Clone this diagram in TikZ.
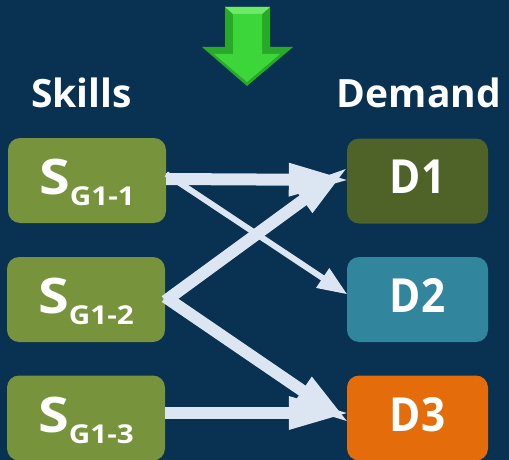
\documentclass[tikz,border=0pt]{standalone}
\usepackage{fontspec}
\setmainfont{Open Sans}
\usetikzlibrary{calc}
\definecolor{bg}{RGB}{8,49,82}
\definecolor{sgreen}{RGB}{119,147,60}
\definecolor{done}{RGB}{79,98,40}
\definecolor{dtwo}{RGB}{49,133,156}
\definecolor{dthree}{RGB}{228,108,10}
\definecolor{arr}{RGB}{220,230,242}
\definecolor{garrow}{RGB}{60,214,58}
\definecolor{garrowdark}{RGB}{40,170,40}
\definecolor{garrowlight}{RGB}{110,235,100}
\tikzset{
  box/.style={fill=#1, rounded corners=12pt, minimum width=158pt, minimum height=85pt, inner sep=0pt},
  lbl/.style={text=white, font=\fontsize{39}{39}\selectfont\bfseries, anchor=base, inner sep=0pt},
  dtext/.style={text=white, font=\fontsize{47}{47}\selectfont\bfseries, anchor=base, inner sep=0pt},
  stext/.style={text=white, anchor=base, inner sep=0pt},
}
\newcommand{\sglabel}[1]{\scalebox{1.14}[1]{{\fontsize{49}{49}\selectfont\bfseries S}{\fontsize{26}{26}\selectfont\bfseries\raisebox{-11pt}{G1-#1}}}}
\newcommand{\dlabel}[1]{\scalebox{0.9}[1]{#1}}
% \fatarrow{start}{end}{shaft width}{head length}{head half width}{colour}
\newcommand{\fatarrow}[6]{%
  \coordinate (fa-b) at ($(#2)!#4!(#1)$);
  \coordinate (fa-c) at ($(#2)!#4-2pt!(#1)$);
  \draw[#6, line width=#3] (#1) -- (fa-c);
  \fill[#6] (#2) -- ($(fa-b)!#5!90:(#2)$) -- ($(fa-b)!#5!-90:(#2)$) -- cycle;
}
\begin{document}
\begin{tikzpicture}[x=1pt,y=-1pt]
\fill[bg] (0,0) rectangle (509,460);
\useasboundingbox (0,0) rectangle (509,460);
% green arrow
\fill[garrowdark] (225,7) -- (270,7) -- (270,47) -- (293,47) -- (247,86) -- (202,47) -- (225,47) -- cycle;
\fill[garrowlight] (225,7) -- (270,7) -- (262,14) -- (233,14) -- cycle;
\fill[garrow] (233,14) -- (262,14) -- (262,54) -- (280,54) -- (247,82) -- (214,54) -- (233,54) -- cycle;
% labels
\node[lbl] (skills) at (81.5,107) {Skills};
\node[lbl] (demand) at (419,107) {Demand};
% boxes
\node[box=sgreen] (s1) at (87,180.5) {};
\node[box=sgreen] (s2) at (86,299.5) {};
\node[box=sgreen] (s3) at (86,418) {};
\node[box=done, minimum width=141pt] (d1) at (417.5,181) {};
\node[box=dtwo, minimum width=141pt] (d2) at (417.5,299.5) {};
\node[box=dthree, minimum width=141pt] (d3) at (417.5,418) {};
% texts
\node[stext] (t1) at (87,194) {\sglabel{1}};
\node[stext] (t2) at (86,313) {\sglabel{2}};
\node[stext] (t3) at (86,432) {\sglabel{3}};
\node[dtext] (td1) at (417.5,193) {\dlabel{D1}};
\node[dtext] (td2) at (417.5,312) {\dlabel{D2}};
\node[dtext] (td3) at (417.5,431) {\dlabel{D3}};
% anchor coordinates
\coordinate (a1s) at ([yshift=1.5pt]s1.east);
\coordinate (a1e) at ([yshift=1pt]d1.west);
\coordinate (a2s) at ([yshift=6.5pt]s1.east);
\coordinate (a2e) at ([yshift=5.5pt]d2.west);
\coordinate (a3s) at ([yshift=-1.5pt]s2.east);
\coordinate (a3e) at ([xshift=-1pt,yshift=12pt]d1.west);
\coordinate (a4s) at ([yshift=2.5pt]s2.east);
\coordinate (a4e) at ([yshift=-3pt]d3.west);
\coordinate (a5s) at ([yshift=5pt]s3.east);
\coordinate (a5e) at ([yshift=5pt]d3.west);
% shadows
\begin{scope}[shift={(2,3)}]
\fatarrow{a1s}{a1e}{12pt}{58pt}{17pt}{black, opacity=0.25}
\fatarrow{a2s}{a2e}{6pt}{29pt}{12pt}{black, opacity=0.25}
\fatarrow{a3s}{a3e}{12pt}{53pt}{16pt}{black, opacity=0.25}
\fatarrow{a4s}{a4e}{12pt}{54pt}{17pt}{black, opacity=0.25}
\fatarrow{a5s}{a5e}{12pt}{58pt}{17pt}{black, opacity=0.25}
\end{scope}
% arrows
\fatarrow{a1s}{a1e}{12pt}{58pt}{17pt}{arr}
\fatarrow{a2s}{a2e}{6pt}{29pt}{12pt}{arr}
\fatarrow{a3s}{a3e}{12pt}{53pt}{16pt}{arr}
\fatarrow{a4s}{a4e}{12pt}{54pt}{17pt}{arr}
\fatarrow{a5s}{a5e}{12pt}{58pt}{17pt}{arr}
\end{tikzpicture}
\end{document}
